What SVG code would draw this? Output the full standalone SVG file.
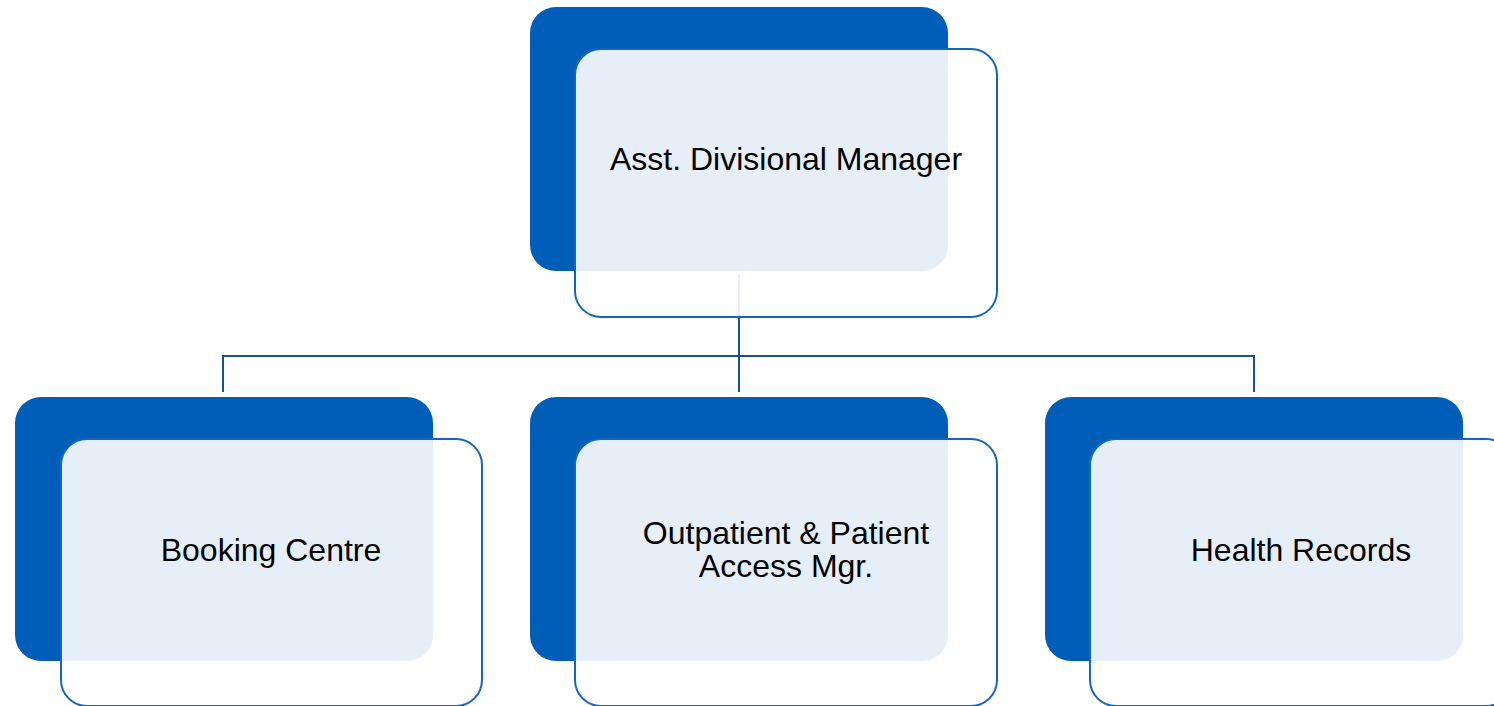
<svg xmlns="http://www.w3.org/2000/svg" width="1494" height="706" viewBox="0 0 1494 706">
<style>
.back{fill:#005EB8}
.front{fill:#ffffff;fill-opacity:0.9;stroke:#1565C0;stroke-width:2}
.lbl{font-family:"Liberation Sans",Arial,sans-serif;font-size:32px;fill:#000;text-anchor:middle}
.conn{fill:none;stroke:#1A4F9A;stroke-width:2}
</style>
<rect width="1494" height="706" fill="#ffffff"/>
<g id="connectors">
<path class="conn" d="M739 275V392M223 392V356H1254V392"/>
</g>
<g id="node-top">
<rect class="back" x="530" y="7" width="418" height="264" rx="26"/>
<rect class="front" x="575" y="49" width="422" height="268" rx="26"/>
<text class="lbl" x="786" y="170">Asst. Divisional Manager</text>
</g>
<g id="node-booking">
<rect class="back" x="15" y="397" width="418" height="264" rx="26"/>
<rect class="front" x="61" y="439" width="421" height="267" rx="26"/>
<text class="lbl" x="271" y="561">Booking Centre</text>
</g>
<g id="node-outpatient">
<rect class="back" x="530" y="397" width="418" height="264" rx="26"/>
<rect class="front" x="575" y="439" width="422" height="267" rx="26"/>
<text class="lbl" x="786" y="544">Outpatient &amp; Patient</text>
<text class="lbl" x="786" y="577">Access Mgr.</text>
</g>
<g id="node-health">
<rect class="back" x="1045" y="397" width="418" height="264" rx="26"/>
<rect class="front" x="1090" y="439" width="422" height="267" rx="26"/>
<text class="lbl" x="1301" y="561">Health Records</text>
</g>
</svg>
